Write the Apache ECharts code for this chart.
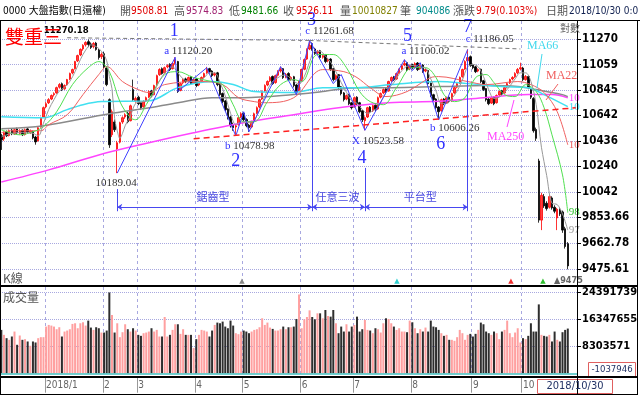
<!DOCTYPE html>
<html><head><meta charset="utf-8">
<script src="https://cdn.jsdelivr.net/npm/echarts@6/dist/echarts.min.js"></script>
<style>html,body{margin:0;padding:0;background:#fff}#c{width:640px;height:396px}</style>
</head><body><div id="c"></div>
<script>
// ---------------- DATA ----------------
const monthNames = ['2017/12','2018/1','2','3','4','5','6','7','8','9','10'];
const monthDays  = [17,22,13,22,18,22,20,22,23,19,18];
const padDays = 3;

const opens = [10480,10455,10510,10482,10525,10494,10535,10500,10525,10490,
10535,10505,10515,10470,10440,10550,10630,10712,10745,10775,
10810,10825,10872,10900,10858,10890,10940,10990,11025,11090,
11140,11190,11225,11252,11232,11210,11240,11180,11125,11150,
11030,10770,10488,10590,10377,10430,10590,10630,10660,10600,
10852,10760,10790,10745,10712,10760,10790,10840,10810,10890,
10975,11025,10990,11040,11060,11025,11072,11084,10845,10908,
10940,10925,10958,10905,10940,10890,10925,10955,10990,11025,
11005,10972,10990,10895,10820,10760,10695,10630,10570,10550,
10570,10630,10660,10610,10565,10550,10600,10660,10710,10775,
10840,10890,10925,10960,10910,10970,11005,11025,10955,10985,
10938,10958,10890,10845,10925,11020,11105,11190,11235,11190,
11155,11175,11120,11140,11090,11105,11025,10940,10975,10875,
10825,10775,10810,10745,10712,10790,10745,10680,10600,10630,
10710,10680,10725,10695,10790,10825,10858,10840,10925,10958,
10940,10990,11022,11055,11075,11022,11058,11040,11072,11022,
11055,11005,11010,10905,10810,10775,10710,10680,10775,10742,
10790,10760,10825,10872,10905,10958,11022,11090,11125,11058,
11040,11005,11020,10925,10860,10775,10742,10790,10745,10808,
10842,10825,10872,10908,10940,10958,10990,11022,11030,10934,
10960,10860,10780,10530,10283,9834,10010,9960,9930,10000,
9930,9850,9910,9895,9770,9660];

const closes = [10448,10504,10480,10520,10496,10528,10504,10520,10488,10528,
10512,10520,10464,10432,10544,10624,10705,10737,10770,10803,
10819,10868,10893,10852,10885,10934,10984,11017,11084,11134,
11186,11220,11244,11228,11203,11236,11186,11118,11143,11040,
10893,10409,10672,10528,10425,10584,10624,10648,10592,10720,
10770,10780,10737,10705,10754,10786,10836,10803,10885,10967,
11017,10984,11033,11050,11017,11067,11101,10836,10901,10934,
10918,10951,10901,10934,10885,10918,10951,10984,11017,11000,
10967,10984,10893,10811,10754,10689,10624,10560,10544,10560,
10624,10656,10608,10560,10544,10592,10656,10705,10770,10836,
10885,10918,10951,10901,10967,11000,11017,10951,10976,10934,
10951,10885,10836,10918,11017,11101,11186,11220,11186,11152,
11169,11118,11134,11084,11101,11017,10934,10967,10868,10819,
10770,10803,10737,10705,10786,10737,10672,10608,10624,10705,
10672,10721,10689,10786,10819,10852,10836,10918,10951,10934,
10984,11017,11050,11067,11017,11050,11033,11067,11017,11050,
11000,11017,10901,10803,10770,10705,10672,10770,10737,10786,
10754,10819,10868,10901,10951,11017,11084,11118,11050,11033,
11000,11017,10918,10852,10770,10737,10786,10737,10803,10836,
10819,10868,10901,10934,10951,10984,11017,11033,10934,10960,
10868,10790,10520,10460,9834,10020,9940,9920,10010,9925,
9900,9915,9880,9760,9640,9500];

const lows = [10369,10440,10470,10475,10485,10488,10495,10490,10478,10482,
10500,10494,10452,10410,10435,10545,10622,10700,10735,10766,
10795,10818,10860,10840,10850,10885,10930,10978,11018,11080,
11130,11175,11210,11205,11190,11195,11175,11100,11105,11025,
10880,10385,10470,10510,10189.04,10420,10575,10615,10580,10595,
10760,10745,10725,10690,10705,10750,10782,10790,10805,10885,
10965,10975,10985,11028,11005,11018,11060,10825,10838,10895,
10905,10915,10890,10898,10872,10880,10915,10948,10982,10990,
10955,10960,10880,10800,10740,10675,10610,10545,10520,10478.98,
10560,10620,10595,10548,10510,10540,10595,10652,10700,10768,
10832,10880,10915,10890,10900,10960,10992,10940,10945,10925,
10925,10870,10820,10838,10918,11012,11098,11180,11175,11140,
11142,11105,11108,11070,11078,11005,10920,10930,10855,10805,
10755,10765,10725,10690,10705,10725,10660,10590,10523.58,10622,
10660,10670,10675,10688,10780,10815,10825,10835,10915,10922,
10932,10982,11012,11045,11005,11012,11020,11030,11005,11015,
10990,10995,10890,10790,10755,10690,10606.26,10672,10725,10735,
10742,10752,10818,10862,10898,10950,11015,11080,11040,11020,
10988,10995,10905,10840,10755,10725,10735,10725,10738,10798,
10808,10818,10862,10898,10928,10948,10980,11010,10922,10925,
10855,10775,10505,10440,9815,9760,9925,9905,9920,9912,
9885,9760,9865,9740,9625,9475.61];

const highs = [10495,10515,10522,10530,10534,10540,10545,10532,10530,10538,
10546,10530,10522,10480,10552,10632,10714,10750,10782,10812,
10830,10876,10905,10910,10895,10940,10992,11025,11090,11142,
11195,11230,11255,11270.18,11245,11248,11250,11190,11160,11165,
11045,10780,10690,10610,10440,10592,10635,10660,10672,10730,
10934,10795,10802,10752,10765,10795,10845,10850,10892,10975,
11028,11035,11042,11062,11070,11075,11120.2,11090,10910,10945,
10950,10960,10965,10942,10948,10928,10960,10992,11040,11032,
11012,10995,10998,10905,10828,10768,10700,10638,10585,10575,
10635,10668,10670,10620,10575,10600,10665,10715,10778,10845,
10895,10928,10962,10968,10975,11012,11042,11030,10988,10995,
10962,10965,10898,10925,11025,11110,11195,11261.68,11245,11200,
11180,11182,11145,11148,11112,11112,11030,10978,10980,10882,
10832,10812,10818,10752,10795,10798,10752,10688,10635,10712,
10718,10730,10732,10795,10828,10862,10868,10925,10960,10965,
10992,11026,11060,11100.02,11082,11060,11066,11078,11080,11062,
11062,11028,11015,10910,10818,10782,10718,10778,10782,10795,
10798,10826,10876,10910,10960,11025,11095,11186.05,11135,11066,
11048,11028,11025,10932,10866,10782,10795,10796,10812,10845,
10850,10876,10910,10942,10962,10995,11030,11075,11040,10972,
10968,10868,10790,10545,10300,10040,10030,9975,10030,10012,
9945,9925,9922,9905,9785,9672];

const volumes = [13100000,11600000,10600000,10100000,11100000,12600000,8600000,11400000,10100000,10300000,
9600000,8300000,9600000,9300000,10600000,10900000,10900000,14100000,14600000,14400000,
14100000,13300000,13900000,11100000,12600000,12900000,13300000,14900000,15100000,13600000,
15100000,15400000,14400000,15900000,13800000,13100000,13900000,13600000,12300000,12300000,
12900000,24400000,17600000,12300000,15100000,10900000,12400000,14800000,13300000,12600000,
13600000,12900000,11600000,11300000,12100000,12300000,12600000,13600000,12600000,13100000,
11100000,11100000,17000000,11100000,11600000,13100000,14800000,14800000,11900000,13300000,
11600000,11600000,11600000,7600000,10300000,11600000,13100000,12900000,12600000,11100000,
12900000,14600000,15300000,15100000,15600000,14100000,13600000,15900000,14400000,12100000,
11800000,12600000,12900000,12600000,12100000,12600000,13100000,13300000,13900000,16600000,
14600000,15300000,13800000,13400000,12900000,12900000,13300000,14100000,13300000,13900000,
13900000,14100000,16400000,23800000,13600000,16300000,17000000,19000000,17000000,16300000,
18100000,18100000,16600000,19100000,17300000,17100000,19100000,15100000,12100000,14100000,
12600000,14800000,12600000,14100000,14600000,17100000,12600000,13300000,16100000,13100000,
12900000,12100000,13600000,13300000,12300000,15100000,16600000,16400000,15100000,14100000,
13100000,13600000,12600000,12600000,12400000,15900000,15400000,13600000,12100000,13300000,
12600000,13800000,12600000,15900000,14100000,13900000,13100000,12100000,11300000,11600000,
10100000,10100000,9800000,10900000,13100000,12100000,10100000,11600000,11900000,11100000,
11900000,13100000,15300000,14800000,12600000,12100000,11600000,12600000,12100000,10300000,
12600000,13100000,15900000,12100000,10900000,12300000,13600000,9300000,10600000,10300000,
11300000,15100000,12600000,12600000,20800000,11600000,11300000,11100000,11600000,9600000,
12600000,10100000,9600000,12400000,13100000,13500000];

// moving averages: [day index, value]
const ma5 = [[0,10470],[4,10500],[8,10505],[12,10500],[14,10480],[16,10580],[18,10690],[20,10770],[22,10840],[24,10870],[26,10920],[28,11000],[30,11100],[32,11180],[34,11225],[36,11210],[38,11170],[40,11090],[41,10960],[42,10860],[43,10620],[44,10520],[45,10460],[46,10500],[47,10560],[49,10640],[51,10740],[53,10750],[55,10760],[57,10790],[59,10880],[61,10960],[63,11010],[65,11040],[67,10990],[69,10940],[71,10920],[73,10920],[75,10920],[77,10950],[79,10990],[81,10990],[83,10910],[85,10800],[87,10660],[89,10570],[91,10590],[93,10590],[95,10580],[97,10640],[99,10740],[101,10850],[103,10920],[105,10950],[107,10970],[109,10960],[111,10920],[113,10900],[115,10960],[117,11080],[119,11170],[121,11170],[123,11130],[125,11080],[127,11000],[129,10910],[131,10830],[133,10760],[135,10740],[137,10690],[139,10660],[141,10680],[143,10710],[145,10790],[147,10860],[149,10910],[151,10980],[153,11030],[155,11050],[157,11050],[159,11040],[161,11030],[163,10940],[165,10840],[167,10740],[169,10740],[171,10780],[173,10840],[175,10930],[177,11040],[179,11060],[181,11040],[183,10960],[185,10850],[187,10780],[189,10790],[191,10830],[193,10880],[195,10940],[197,10990],[199,10990],[201,10920],[203,10730],[204,10560],[205,10390],[207,10170],[209,9960],[211,9950],[213,9880],[215,9760]];
const ma10 = [[0,10528],[7,10488],[12,10512],[16,10552],[21,10672],[27,10893],[33,11033],[37,11084],[41,11000],[45,10754],[49,10624],[51,10608],[55,10729],[62,10976],[67,11000],[73,10951],[80,10918],[84,10893],[88,10729],[92,10592],[96,10592],[101,10754],[106,10893],[111,10934],[114,10918],[120,11143],[126,11143],[131,11033],[136,10836],[140,10754],[145,10729],[150,10868],[156,11033],[161,11033],[165,10951],[168,10811],[172,10754],[176,10786],[180,10951],[184,10976],[187,10909],[191,10811],[195,10795],[199,10893],[203,10836],[206,10705],[209,10488],[213,10175],[215,9890]];
const ma22 = [[0,10504],[4,10520],[15,10520],[18,10568],[25,10648],[31,10811],[37,10976],[40,11042],[46,10918],[52,10852],[56,10828],[62,10893],[75,10918],[84,10893],[90,10786],[96,10754],[100,10745],[111,10786],[122,11017],[130,11000],[135,10951],[140,10868],[146,10795],[154,10836],[163,10951],[166,10959],[177,10918],[184,10893],[196,10918],[201,10893],[206,10828],[211,10672],[215,10409]];
const ma66 = [[0,10632],[16,10624],[25,10689],[31,10729],[38,10754],[56,10760],[67,10868],[80,10918],[88,10893],[96,10836],[111,10828],[122,10868],[135,10868],[148,10893],[166,10918],[177,10901],[190,10877],[200,10868],[206,10811],[215,10713]];
const ma120 = [[0,10536],[16,10560],[41,10656],[55,10700],[67,10745],[80,10786],[92,10786],[111,10811],[122,10836],[135,10868],[148,10868],[166,10877],[184,10885],[196,10877],[203,10852],[213,10811],[215,10795]];
const ma250 = [[0,10121],[18,10214],[37,10330],[56,10425],[73,10504],[92,10584],[111,10648],[128,10705],[147,10745],[166,10756],[183,10786],[200,10811],[209,10811],[215,10786]];

// wave pivots (blue zig-zag)
const wavePath = [[44,10189.04],[66,11120.2],[67,10836],[78,11033],[89,10478.98],[92,10672],[94,10512],[106,11042],[112,10811],[117,11261.68],[126,10901],[129,10976],[138,10523.58],[153,11100.02],[156,11010],[159,11075],[166,10606.26],[177,11186.05]];

const priceTicks = [9475.61,9662.78,9853.66,10042,10240,10436,10642,10845,11059,11270.18];
const priceTickLabels = ['9475.61','9662.78','9853.66','10042','10240','10436','10642','10845','11059','11270'];
const volTicks = [8303571,16347655,24391739];

// annotations: [index, value, text, kind, dx, dy]
const notes = [
 [33,11270.18,'11270.18','top',-22,-9],
 [44,10189.04,'10189.04','price',-1,10],
 [66,11120.2,'{l|a} {n|11120.20}','pivot',13,-6],
 [66,11120.2,'1','wave',-1,-26],
 [89,10478.98,'{l|b} {n|10478.98}','pivot',14,10],
 [89,10478.98,'2','wave',0,25],
 [117,11261.68,'{l|c} {n|11261.68}','pivot',20,-9],
 [117,11261.68,'3','wave',2,-20],
 [138,10523.58,'{l|X} {n|10523.58}','pivot',13,11],
 [138,10523.58,'4','wave',-3,28],
 [153,11100.02,'{l|a} {n|11100.02}','pivot',21,-9],
 [153,11100.02,'5','wave',3,-23],
 [166,10606.26,'{l|b} {n|10606.26}','pivot',16,8],
 [166,10606.26,'6','wave',2,24],
 [177,11186.05,'{l|c} {n|11186.05}','pivot',22,-10],
 [177,11186.05,'7','wave',0,-22],
 [80,10007,'鋸齒型','bracket',1,0],
 [128,10007,'任意三波','bracket',-1,0],
 [159,10007,'平台型','bracket',0,0]
];

// ---------------- BUILD ----------------
const NARROW = '"DejaVu Sans Condensed","Liberation Sans Narrow",sans-serif';
const SERIF = '"Liberation Serif","DejaVu Serif",serif';
const CJK = '"Noto Sans CJK TC","Noto Sans CJK SC",sans-serif';
const GRIDC = '#a8a8e0';

const categories = [];
const monthStarts = new Set();
let n = 0;
monthNames.forEach((m, k) => {
  for (let d = 0; d < monthDays[k]; d++) {
    if (d === 0 && k > 0) monthStarts.add(n);
    categories.push(m + '|' + d);
    n++;
  }
});
for (let p = 0; p < padDays; p++) categories.push('|pad' + p);
const isStart = (i) => monthStarts.has(i);

const candleData = opens.map((o, i) => [o, closes[i], lows[i], highs[i]]);
const volData = volumes.map((v, i) => ({
  value: v,
  itemStyle: { color: closes[i] >= opens[i] ? '#ffa0a0' : '#2e2e2e' }
}));

const kindStyle = {
  top: { color: '#000', fontFamily: NARROW, fontWeight: 'bold', fontSize: 9.5 },
  price: { color: '#333', fontFamily: SERIF, fontSize: 11 },
  pivot: { color: '#333', fontFamily: SERIF, fontSize: 11,
           rich: { l: { color: '#3030ff', fontFamily: SERIF, fontSize: 11 }, n: { color: '#333', fontFamily: SERIF, fontSize: 11 } } },
  wave: { color: '#3030ff', fontFamily: SERIF, fontSize: 18 },
  bracket: { color: '#4848e0', fontFamily: CJK, fontSize: 11 }
};
const markPoints = notes.map(([i, v, t, k, dx, dy]) => ({
  coord: [i, v], symbol: 'circle', symbolSize: 0,
  label: Object.assign({ show: true, position: 'inside', offset: [dx, dy], formatter: t }, kindStyle[k])
}));

function maSeries(name, data, color, width, endColor) {
  const s = {
    type: 'line', name, xAxisIndex: 0, yAxisIndex: 0, data,
    symbol: 'none', showSymbol: false, smooth: 0.35, silent: true, z: 3,
    lineStyle: { color, width }
  };
  if (endColor) {
    s.endLabel = { show: true, distance: 1, color: endColor, fontFamily: SERIF, fontSize: 11,
      formatter: (p) => String(Math.round(p.value[1])).slice(0, 2) };
  }
  return s;
}

function txt(x, y, text, fill, font, align) {
  return { type: 'text', x, y, z: 100, silent: true,
    style: { text, fill, font, align: align || 'left', verticalAlign: 'middle', textAlign: align || 'left', textVerticalAlign: 'middle' } };
}
function ln(x1, y1, x2, y2, stroke, w) {
  return { type: 'line', z: 100, silent: true, shape: { x1, y1, x2, y2 }, style: { stroke, lineWidth: w || 1 } };
}
function box(x, y, w, h, stroke) {
  return { type: 'rect', z: 99, silent: true, shape: { x, y, width: w, height: h }, style: { fill: '#fff', stroke, lineWidth: 1 } };
}

const HF = '10px "DejaVu Sans Condensed","Noto Sans CJK TC",sans-serif';
const HFC = '11px "Noto Sans CJK TC",sans-serif';
const header = [
  [3,'0000 大盤指數(日還權)','#000',HF],
  [120,'開','#555',HFC],[131,'9508.81','#e00000',HF],
  [174,'高','#555',HFC],[186,'9574.83','#a02070',HF],
  [229,'低','#555',HFC],[241,'9481.66','#008000',HF],
  [283,'收','#555',HFC],[296,'9526.11','#e00000',HF],
  [340,'量','#555',HFC],[352,'10010827','#808000',HF],
  [400,'筆','#555',HFC],[416,'904086','#008b8b',HF],
  [453,'漲跌','#555',HFC],[476,'9.79(0.103%)','#e00000',HF],
  [546,'日期','#555',HFC],[569,'2018/10/30 0:0','#102050',HF]
];

const graphics = [];
header.forEach(([x, t, c, f]) => graphics.push(txt(x, 11, t, c, f)));
graphics.push(
  ln(0, 20.5, 640, 20.5, '#000', 1),
  ln(0, 286, 638, 286, '#000', 2),
  ln(0, 377, 638, 377, '#000', 2),
  ln(0, 394.5, 638, 394.5, '#000', 1),
  ln(0.5, 21, 0.5, 394, '#000', 1),
  ln(577.5, 21, 577.5, 394, '#000', 1),
  ln(637.5, 21, 637.5, 394, '#000', 1),
  txt(5, 37, '雙重三', '#ff0000', '19px ' + CJK),
  txt(560, 28, '對數', '#666', '10px ' + CJK),
  txt(3, 278, 'K線', '#555', '12px ' + CJK),
  txt(3, 297, '成交量', '#555', '12px ' + CJK),
  txt(527, 46, 'MA66', '#40d8ec', '12px ' + SERIF),
  txt(546, 76, 'MA22', '#f06060', '12px ' + SERIF),
  txt(487, 137, 'MA250', '#ff44ff', '12px ' + SERIF),
  ln(542, 54, 537, 88, '#40d8ec', 1),
  ln(558, 84, 546, 100, '#f06060', 1),
  ln(507, 127, 514, 100, '#ff44ff', 1),
  txt(242, 281, '▲', '#888', '7px "DejaVu Sans"', 'center'),
  txt(397, 281, '▲', '#30d0d0', '7px "DejaVu Sans"', 'center'),
  txt(511, 281, '▲', '#f03030', '7px "DejaVu Sans"', 'center'),
  txt(543, 281, '▲', '#30c030', '7px "DejaVu Sans"', 'center'),
  txt(554, 281, '▲9475', '#666', 'bold 9px ' + NARROW),
  box(588.5, 362.5, 47, 15, '#e06060'),
  txt(612, 370, '-1037946', '#223366', '9.5px ' + NARROW, 'center'),
  box(537.5, 379.5, 75, 14, '#e06060'),
  txt(575, 386.5, '2018/10/30', '#223366', '11px ' + NARROW, 'center')
);

const option = {
  animation: false,
  backgroundColor: '#fff',
  grid: [
    { left: 0, right: 63, top: 21, bottom: 111, outerBoundsMode: 'none', containLabel: false },
    { left: 0, right: 63, top: 287, bottom: 19.3, outerBoundsMode: 'none', containLabel: false }
  ],
  xAxis: [
    { type: 'category', gridIndex: 0, data: categories, boundaryGap: true,
      axisLine: { show: false }, axisTick: { show: false }, axisLabel: { show: false },
      splitLine: { show: true, interval: (i) => isStart(i), lineStyle: { color: GRIDC, type: [3, 3], width: 1 } } },
    { type: 'category', gridIndex: 1, data: categories, boundaryGap: true,
      axisLine: { show: false, onZero: false },
      axisTick: { show: true, interval: (i) => isStart(i), length: 16, lineStyle: { color: '#999' } },
      axisLabel: { show: true, interval: (i) => isStart(i), align: 'left', margin: 4, color: '#666',
        fontFamily: NARROW, fontSize: 10, formatter: (v) => v.split('|')[0] },
      splitLine: { show: true, interval: (i) => isStart(i), lineStyle: { color: GRIDC, type: [3, 3], width: 1 } } }
  ],
  yAxis: [
    { type: 'log', gridIndex: 0, position: 'right', min: 9364.0, max: 11428.6, logBase: 10,
      axisLine: { show: true, lineStyle: { color: '#000' } },
      axisTick: { show: true, length: 4, customValues: priceTicks, lineStyle: { color: '#000' } },
      axisLabel: { show: true, customValues: priceTicks, margin: 5, color: '#000', fontWeight: 'bold',
        fontFamily: NARROW, fontSize: 11.5,
        formatter: (v) => { let b = 0, d = Infinity; priceTicks.forEach((t, k) => { const e = Math.abs(t - v); if (e < d) { d = e; b = k; } }); return priceTickLabels[b]; } },
      splitLine: { show: true, lineStyle: { color: GRIDC, type: 'dotted', width: 1 } } },
    { type: 'value', gridIndex: 1, position: 'right', min: -1037946, max: 26052000,
      axisLine: { show: true, lineStyle: { color: '#000' } },
      axisTick: { show: true, length: 4, customValues: volTicks, lineStyle: { color: '#000' } },
      axisLabel: { show: true, customValues: volTicks, margin: 5, color: '#000', fontWeight: 'bold',
        fontFamily: NARROW, fontSize: 11, formatter: (v) => String(Math.round(v)) },
      splitLine: { show: true, lineStyle: { color: GRIDC, type: 'dotted', width: 1 } } }
  ],
  series: [
    { type: 'candlestick', xAxisIndex: 0, yAxisIndex: 0, data: candleData, barWidth: 2, z: 2, silent: true,
      itemStyle: { color: '#ff4040', color0: '#000', borderColor: '#ff0000', borderColor0: '#000', borderWidth: 0.8 },
      markPoint: { silent: true, symbol: 'circle', symbolSize: 0, data: markPoints, z: 6 },
      markLine: { silent: true, symbol: ['none', 'none'], label: { show: false }, animation: false,
        data: [
          [{ coord: [25, 11285], lineStyle: { color: '#777', type: [4, 3], width: 1 } }, { coord: [117, 11262] }],
          [{ coord: [117, 11262], lineStyle: { color: '#777', type: [4, 3], width: 1 } }, { coord: [197, 11190] }],
          [{ coord: [73, 10456], lineStyle: { color: '#ff2020', type: [6, 4], width: 1.5 } }, { coord: [218, 10704] }]
        ] } },
    maSeries('MA250', ma250, '#ff44ff', 1.5, '#ff44ff'),
    maSeries('MA120', ma120, '#8a8a8a', 1.5, null),
    maSeries('MA66', ma66, '#40e0f0', 1.5, '#40d8ec'),
    maSeries('MA22', ma22, '#f06060', 1, '#f06060'),
    maSeries('MA10', ma10, '#50e050', 1, '#30c030'),
    maSeries('MA5', ma5, '#999999', 1, '#999999'),
    { type: 'line', xAxisIndex: 0, yAxisIndex: 0, data: wavePath, symbol: 'none', showSymbol: false,
      silent: true, z: 4, lineStyle: { color: '#4040ff', width: 1 },
      markLine: { silent: true, symbol: ['none', 'none'], label: { show: false },
        lineStyle: { color: '#4848f0', width: 1, type: 'solid' },
        data: [
          [{ coord: [44, 10067] }, { coord: [44, 9900] }],
          [{ coord: [118, 11240] }, { coord: [118, 9900] }],
          [{ coord: [138, 10229] }, { coord: [138, 9900] }],
          [{ coord: [177, 11150] }, { coord: [177, 9900] }],
          [{ coord: [44, 9931], symbol: 'arrow', symbolSize: 5 }, { coord: [118, 9931], symbol: 'arrow', symbolSize: 5 }],
          [{ coord: [118, 9931], symbol: 'arrow', symbolSize: 5 }, { coord: [138, 9931], symbol: 'arrow', symbolSize: 5 }],
          [{ coord: [138, 9931], symbol: 'arrow', symbolSize: 5 }, { coord: [177, 9931], symbol: 'arrow', symbolSize: 5 }]
        ] } },
    { type: 'bar', xAxisIndex: 1, yAxisIndex: 1, data: volData, barWidth: 2, silent: true,
      markLine: { silent: true, symbol: ['none', 'none'], label: { show: false },
        lineStyle: { color: '#40c0c0', width: 1.5, type: 'solid' }, data: [{ yAxis: 0 }] } }
  ],
  graphic: graphics
};

const chart = echarts.init(document.getElementById('c'), null, { renderer: 'canvas', width: 640, height: 396 });
chart.setOption(option);
</script>
</body></html>
